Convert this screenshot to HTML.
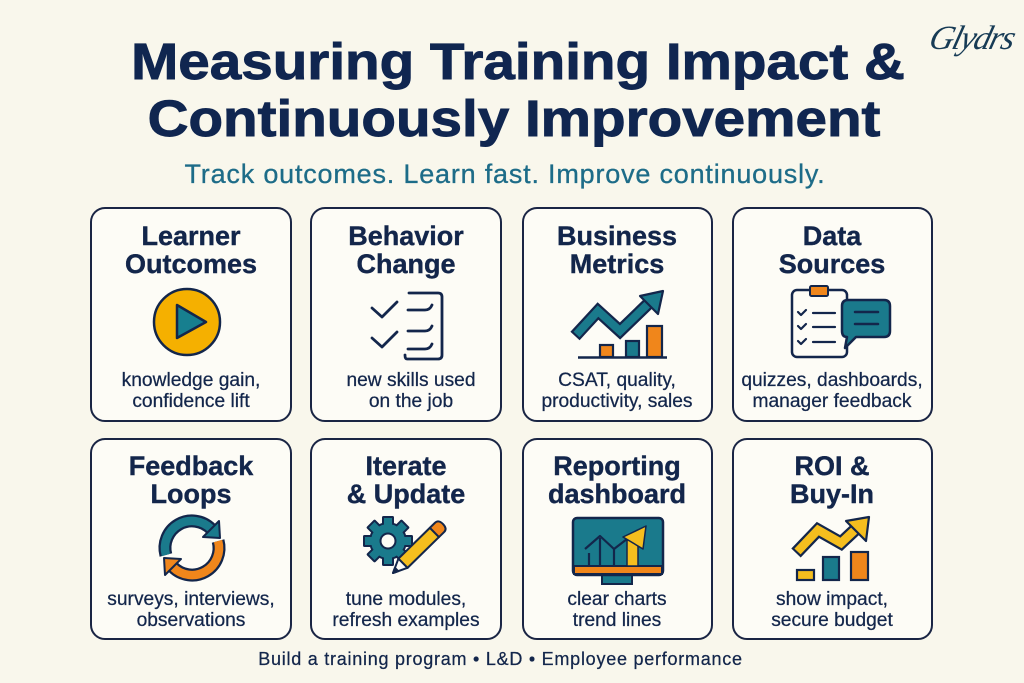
<!DOCTYPE html>
<html>
<head>
<meta charset="utf-8">
<style>
  html,body{margin:0;padding:0;}
  body{width:1024px;height:683px;background:#f9f7ec;position:relative;overflow:hidden;font-family:"Liberation Sans",Arial,sans-serif;color:#13264b;}
  .t1,.t2{position:absolute;left:6px;width:1024px;text-align:center;font-weight:bold;font-size:51px;line-height:57px;letter-spacing:0;color:#102650;-webkit-text-stroke:0.9px #102650;transform:scaleX(1.11);transform-origin:512px 0;white-space:nowrap;}
  .t1{top:33px;}
  .t2{top:90px;left:2px;}
  .sub{position:absolute;left:-7px;width:1024px;top:159px;text-align:center;font-size:27px;line-height:30px;letter-spacing:0.8px;color:#1d6c88;-webkit-text-stroke:0.3px #1d6c88;white-space:nowrap;}
  .logo{position:absolute;left:930px;top:20px;font-family:"Liberation Serif",serif;font-style:italic;font-size:34px;color:#173b55;transform:skewX(-15deg);letter-spacing:-1.5px;}
  .card{position:absolute;box-sizing:border-box;border:2.5px solid #1a2544;border-radius:15px;background:#fdfcf6;}
  .ttl{position:absolute;text-align:center;font-weight:bold;font-size:27px;line-height:28px;color:#13264b;-webkit-text-stroke:0.4px #13264b;white-space:nowrap;}
  .dsc{position:absolute;text-align:center;font-size:19.2px;line-height:21px;color:#13264b;-webkit-text-stroke:0.25px #13264b;white-space:nowrap;}
  .foot{position:absolute;left:0;width:1001px;top:648px;text-align:center;font-size:18px;line-height:22px;letter-spacing:0.75px;color:#13264b;-webkit-text-stroke:0.25px #13264b;white-space:nowrap;}
  svg{position:absolute;left:0;top:0;}
</style>
</head>
<body>
<div class="t1">Measuring Training Impact &amp;</div>
<div class="t2">Continuously Improvement</div>
<div class="sub">Track outcomes. Learn fast. Improve continuously.</div>
<div class="logo">Glydrs</div>

<div class="card" style="left:90px;top:207px;width:202px;height:215px;"></div>
<div class="card" style="left:310px;top:207px;width:192px;height:215px;"></div>
<div class="card" style="left:522px;top:207px;width:191px;height:215px;"></div>
<div class="card" style="left:732px;top:207px;width:201px;height:215px;"></div>
<div class="card" style="left:90px;top:438px;width:202px;height:202px;"></div>
<div class="card" style="left:310px;top:438px;width:192px;height:202px;"></div>
<div class="card" style="left:522px;top:438px;width:191px;height:202px;"></div>
<div class="card" style="left:732px;top:438px;width:201px;height:202px;"></div>

<!-- titles row 1 -->
<div class="ttl" style="left:91px;width:200px;top:222px;">Learner<br>Outcomes</div>
<div class="ttl" style="left:306px;width:200px;top:222px;">Behavior<br>Change</div>
<div class="ttl" style="left:517px;width:200px;top:222px;">Business<br>Metrics</div>
<div class="ttl" style="left:732px;width:200px;top:222px;">Data<br>Sources</div>
<!-- titles row 2 -->
<div class="ttl" style="left:91px;width:200px;top:452px;">Feedback<br>Loops</div>
<div class="ttl" style="left:306px;width:200px;top:452px;">Iterate<br>&amp; Update</div>
<div class="ttl" style="left:517px;width:200px;top:452px;">Reporting<br>dashboard</div>
<div class="ttl" style="left:732px;width:200px;top:452px;">ROI &amp;<br>Buy-In</div>

<!-- descriptions row 1 -->
<div class="dsc" style="left:91px;width:200px;top:370px;">knowledge gain,<br>confidence lift</div>
<div class="dsc" style="left:311px;width:200px;top:370px;">new skills used<br>on the job</div>
<div class="dsc" style="left:517px;width:200px;top:370px;">CSAT, quality,<br>productivity, sales</div>
<div class="dsc" style="left:732px;width:200px;top:370px;">quizzes, dashboards,<br>manager feedback</div>
<!-- descriptions row 2 -->
<div class="dsc" style="left:91px;width:200px;top:589px;">surveys, interviews,<br>observations</div>
<div class="dsc" style="left:306px;width:200px;top:589px;">tune modules,<br>refresh examples</div>
<div class="dsc" style="left:517px;width:200px;top:589px;">clear charts<br>trend lines</div>
<div class="dsc" style="left:732px;width:200px;top:589px;">show impact,<br>secure budget</div>

<div class="foot">Build a training program • L&amp;D • Employee performance</div>

<svg width="1024" height="683" viewBox="0 0 1024 683">
  <!-- Card 1: play -->
  <circle cx="187" cy="322" r="33" fill="#f5b000" stroke="#13264b" stroke-width="2.5"/>
  <polygon points="177,305 177,338 206,322" fill="#177f8f" stroke="#13264b" stroke-width="2.5" stroke-linejoin="round"/>

  <!-- Card 2: checklist -->
  <g fill="none" stroke="#13264b" stroke-width="2.8" stroke-linecap="round" stroke-linejoin="round">
    <polyline points="372,308 382,317 397,302"/>
    <polyline points="372,338 382,347 397,332"/>
    <path d="M409 293 H438 Q442 293 442 297 V355 Q442 359 438 359 H407 Q405 359 405 355"/>
    <path d="M408 310 H425 Q430 310 432 305"/>
    <path d="M408 331 H425 Q430 331 432 326"/>
    <path d="M408 349 H425 Q430 349 432 344"/>
  </g>

  <!-- Card 3: business metrics -->
  <polyline points="575,336 598,311 620,331 650,302" fill="none" stroke="#13264b" stroke-width="12.5" stroke-linejoin="miter"/>
  <polyline points="576.5,334.5 598,311 620,331 650,302" fill="none" stroke="#1a7a8c" stroke-width="8" stroke-linejoin="miter"/>
  <polygon points="640,296 663,291 658,314" fill="#1a7a8c" stroke="#13264b" stroke-width="2.2" stroke-linejoin="round"/>
  <rect x="600" y="345" width="13" height="12" fill="#f0861b" stroke="#13264b" stroke-width="2.2"/>
  <rect x="626" y="341" width="13" height="16" fill="#1a7a8c" stroke="#13264b" stroke-width="2.2"/>
  <rect x="647" y="326" width="15" height="31" fill="#f0861b" stroke="#13264b" stroke-width="2.2"/>
  <line x1="578" y1="357.5" x2="667" y2="357.5" stroke="#13264b" stroke-width="2.5"/>

  <!-- Card 4: data sources -->
  <rect x="792" y="290" width="55" height="67" rx="5" fill="#fdfcf6" stroke="#13264b" stroke-width="2.5"/>
  <rect x="810" y="286" width="18" height="10" rx="1.5" fill="#f0861b" stroke="#13264b" stroke-width="2"/>
  <g fill="none" stroke="#13264b" stroke-width="2.2" stroke-linecap="round" stroke-linejoin="round">
    <polyline points="798,312 801,315 806,310"/>
    <polyline points="798,326 801,329 806,324"/>
    <polyline points="798,341 801,344 806,339"/>
    <line x1="813" y1="313" x2="835" y2="313"/>
    <line x1="813" y1="327" x2="835" y2="327"/>
    <line x1="813" y1="342" x2="835" y2="342"/>
  </g>
  <path d="M848 300 H884 Q890 300 890 306 V331 Q890 337 884 337 H856 L845 348 L847 337 Q842 337 842 331 V306 Q842 300 848 300 Z" fill="#1a7a8c" stroke="#13264b" stroke-width="2.5" stroke-linejoin="round"/>
  <line x1="855" y1="312" x2="878" y2="312" stroke="#13264b" stroke-width="2.5" stroke-linecap="round"/>
  <line x1="855" y1="324" x2="878" y2="324" stroke="#13264b" stroke-width="2.5" stroke-linecap="round"/>

  <!-- Row2 Card 1: feedback loops -->
  <path d="M165.9 555 A27 27 0 0 1 211.1 528.9" fill="none" stroke="#13264b" stroke-width="13"/>
  <path d="M165.9 555 A27 27 0 0 1 211.1 528.9" fill="none" stroke="#1a7a8c" stroke-width="8.5"/>
  <polygon points="219,521 203,537 220,538" fill="#1a7a8c" stroke="#13264b" stroke-width="2" stroke-linejoin="round"/>
  <path d="M218.1 541 A27 27 0 0 1 172.9 567.1" fill="none" stroke="#13264b" stroke-width="13"/>
  <path d="M218.1 541 A27 27 0 0 1 172.9 567.1" fill="none" stroke="#f0861b" stroke-width="8.5"/>
  <polygon points="165,575 181,559 164,558" fill="#f0861b" stroke="#13264b" stroke-width="2" stroke-linejoin="round"/>

  <!-- Row2 Card 2: gear + pencil -->
  <g transform="translate(388,541)">
    <g fill="#13264b">
      <circle r="19"/>
      <rect x="-6" y="-25" width="12" height="12" rx="1.5"/>
      <rect x="-6" y="-25" width="12" height="12" rx="1.5" transform="rotate(45)"/>
      <rect x="-6" y="-25" width="12" height="12" rx="1.5" transform="rotate(90)"/>
      <rect x="-6" y="-25" width="12" height="12" rx="1.5" transform="rotate(135)"/>
      <rect x="-6" y="-25" width="12" height="12" rx="1.5" transform="rotate(180)"/>
      <rect x="-6" y="-25" width="12" height="12" rx="1.5" transform="rotate(225)"/>
      <rect x="-6" y="-25" width="12" height="12" rx="1.5" transform="rotate(270)"/>
      <rect x="-6" y="-25" width="12" height="12" rx="1.5" transform="rotate(315)"/>
    </g>
    <g fill="#1a7a8c">
      <circle r="17"/>
      <rect x="-4" y="-23" width="8" height="10"/>
      <rect x="-4" y="-23" width="8" height="10" transform="rotate(45)"/>
      <rect x="-4" y="-23" width="8" height="10" transform="rotate(90)"/>
      <rect x="-4" y="-23" width="8" height="10" transform="rotate(135)"/>
      <rect x="-4" y="-23" width="8" height="10" transform="rotate(180)"/>
      <rect x="-4" y="-23" width="8" height="10" transform="rotate(225)"/>
      <rect x="-4" y="-23" width="8" height="10" transform="rotate(270)"/>
      <rect x="-4" y="-23" width="8" height="10" transform="rotate(315)"/>
    </g>
    <circle r="7.5" fill="#fdfcf6" stroke="#13264b" stroke-width="2"/>
  </g>
  <g transform="translate(393,573) rotate(-44.4)" stroke="#13264b" stroke-width="2" stroke-linejoin="round">
    <polygon points="0,0 14,-6.5 14,6.5" fill="#fdfcf6"/>
    <polygon points="0,0 5,-2.3 5,2.3" fill="#13264b"/>
    <rect x="14" y="-6.5" width="44" height="13" fill="#f5be1e"/>
    <path d="M58 -6.5 H65 Q70 -6.5 70 0 Q70 6.5 65 6.5 H58 Z" fill="#f0861b"/>
  </g>

  <!-- Row2 Card 3: dashboard monitor -->
  <rect x="602" y="574" width="30" height="10" fill="#1a7a8c" stroke="#13264b" stroke-width="2"/>
  <rect x="573" y="518" width="90" height="57" rx="4" fill="#1a7a8c" stroke="#13264b" stroke-width="2.5"/>
  <rect x="574" y="566" width="88" height="8" fill="#f0861b" stroke="#13264b" stroke-width="2"/>
  <g fill="none" stroke="#13264b" stroke-width="2.2" stroke-linejoin="round">
    <polyline points="585,549 600,536 614,549 627,539"/>
    <line x1="589" y1="553" x2="589" y2="566"/>
    <line x1="600" y1="538" x2="600" y2="566"/>
    <line x1="614" y1="549" x2="614" y2="566"/>
  </g>
  <rect x="627" y="540" width="11" height="26" fill="#f5be1e" stroke="#13264b" stroke-width="1.5"/>
  <polygon points="623,537 646,526 643,549" fill="#f5be1e" stroke="#13264b" stroke-width="1.5" stroke-linejoin="round"/>

  <!-- Row2 Card 4: ROI -->
  <polyline points="796,553 818,530 841,543 857,528" fill="none" stroke="#13264b" stroke-width="13" stroke-linejoin="miter"/>
  <polyline points="797.5,551.5 818,530 841,543 857,528" fill="none" stroke="#f5be1e" stroke-width="8.5" stroke-linejoin="miter"/>
  <polygon points="846,521 869,517 866,541" fill="#f5be1e" stroke="#13264b" stroke-width="2.2" stroke-linejoin="round"/>
  <rect x="797" y="570" width="17" height="10" fill="#f5be1e" stroke="#13264b" stroke-width="2.2"/>
  <rect x="823" y="557" width="16" height="23" fill="#1a7a8c" stroke="#13264b" stroke-width="2.2"/>
  <rect x="851" y="552" width="17" height="28" fill="#f0861b" stroke="#13264b" stroke-width="2.2"/>
</svg>
</body>
</html>
